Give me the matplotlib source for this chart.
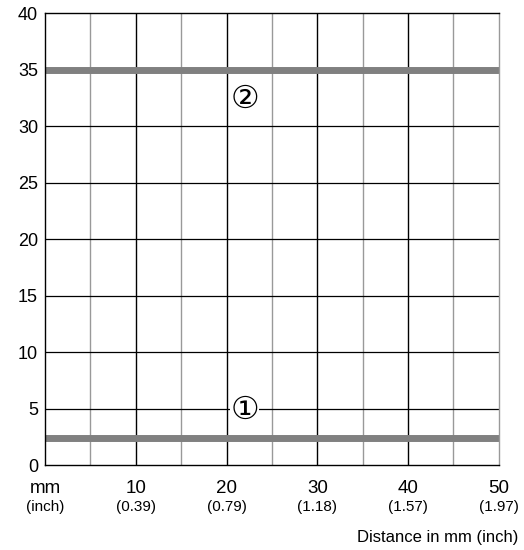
import matplotlib.pyplot as plt
from matplotlib.transforms import blended_transform_factory

# chart data
x_ticks = [0, 10, 20, 30, 40, 50]
mm_labels = ["mm", "10", "20", "30", "40", "50"]
inch_labels = ["(inch)", "(0.39)", "(0.79)", "(1.18)", "(1.57)", "(1.97)"]
y_ticks = [0, 5, 10, 15, 20, 25, 30, 35, 40]
line_x = [0, 50]
line1_y = [2.4, 2.4]
line2_y = [35, 35]
labels = ["①", "②"]
label_x = [22, 22]
label_y = [4.8, 32.4]

plt.rcParams["font.family"] = ["Liberation Sans", "DejaVu Sans"]

fig = plt.figure(figsize=(5.24, 5.5), dpi=100)
ax = fig.add_axes([0.086, 0.1545, 0.866, 0.8215])
ax.set_xlim(0, 50)
ax.set_ylim(0, 40)

# grid: black at 10s, grey at the 5s
for x in range(5, 50, 5):
    col = "black" if x % 10 == 0 else "#999999"
    ax.axvline(x, color=col, lw=1.0, zorder=1)
for y in y_ticks[1:-1]:
    ax.axhline(y, color="black", lw=0.9, zorder=1)

ax.plot(line_x, line1_y, color="#808080", lw=5, zorder=2, solid_capstyle="butt")
ax.plot(line_x, line2_y, color="#808080", lw=5, zorder=2, solid_capstyle="butt")

for t, x, y in zip(labels, label_x, label_y):
    ax.text(x, y, t, ha="center", va="center", fontsize=23,
            family=["DejaVu Sans"], zorder=3,
            bbox=dict(facecolor="white", edgecolor="none", pad=0.0))

ax.set_yticks(y_ticks)
ax.set_yticklabels([str(v) for v in y_ticks], fontsize=13)
ax.set_xticks(x_ticks)
ax.set_xticklabels(mm_labels, fontsize=13.5)
ax.tick_params(length=0, pad=5)
ax.tick_params(axis="x", pad=11)

trans = blended_transform_factory(ax.transData, ax.transAxes)
for x, t in zip(x_ticks, inch_labels):
    ax.text(x, -0.092, t, transform=trans, ha="center", va="center", fontsize=11)

for s in ["left", "top", "bottom"]:
    ax.spines[s].set_color("black")
    ax.spines[s].set_linewidth(1.0)
ax.spines["right"].set_color("#999999")
ax.spines["right"].set_linewidth(1.0)

fig.text(0.99, 0.023, "Distance in mm (inch)", ha="right", va="center", fontsize=12)

fig.savefig("out.png", dpi=100)
